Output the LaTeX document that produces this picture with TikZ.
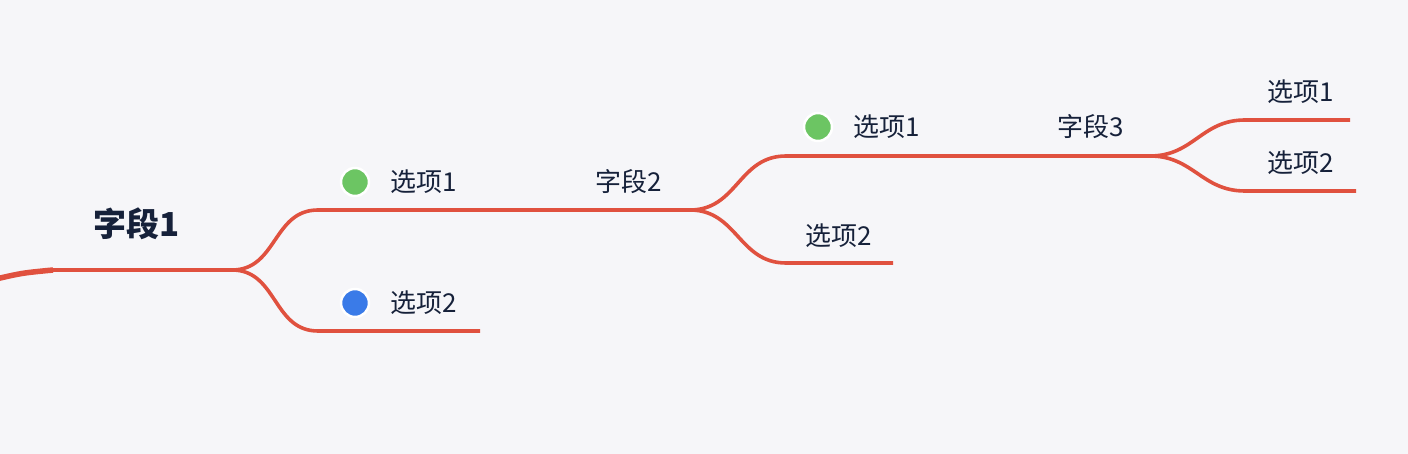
\documentclass[tikz,border=0pt]{standalone}
\usepackage{fontspec}
\setmainfont{Noto Sans CJK SC}
\usetikzlibrary{positioning}
\definecolor{bgcol}{HTML}{F6F6F9}
\definecolor{linered}{HTML}{E0513F}
\definecolor{inkcol}{HTML}{16213A}
\definecolor{dotgreen}{HTML}{6CC563}
\definecolor{dotblue}{HTML}{3A7BE8}

\begin{document}
\begin{tikzpicture}[x=1pt, y=-1pt,
  every node/.style={font=\fontsize{26}{30}\selectfont, text=inkcol, inner sep=0pt},
  branch/.style={draw=linered, line width=3.6pt},
  optlbl/.style={anchor=west},
  dot/.style={circle, minimum size=28pt, line width=2.5pt, draw=white}]
% canvas
\fill[bgcol] (0,0) rectangle (1408,454);
\useasboundingbox (0,0) rectangle (1408,454);
% root field
\node[font=\fontsize{33}{36}\selectfont\bfseries] (field1) at (137,224) {字段1};
\coordinate (rootin) at (-4,279);
\coordinate (root) at (53,270);
\coordinate (fork1) at (232,270);
\draw[draw=linered, line width=5.5pt] (rootin) .. controls (22,273) .. (root);
\draw[branch] (root) -- (fork1);
% first level
\coordinate (opt1a) at (318,210);
\coordinate (fork2) at (690,210);
\coordinate (opt2a) at (318,331);
\coordinate (opt2b) at (480,331);
\draw[branch] (fork1) to[out=0,in=180,looseness=1.1] (opt1a) -- (fork2);
\draw[branch] (fork1) to[out=0,in=180,looseness=1.1] (opt2a) -- (opt2b);
\node[dot, fill=dotgreen] (dot1) at (355,182) {};
\node[optlbl] (opt1) at (390,182) {选项1};
\node[optlbl] (field2) at (595,182) {字段2};
\node[dot, fill=dotblue] (dot2) at (355,303) {};
\node[optlbl] (opt2) at (390,303) {选项2};
% second level
\coordinate (opt21a) at (786,156);
\coordinate (fork3) at (1150,156);
\coordinate (opt22a) at (786,263);
\coordinate (opt22b) at (893,263);
\draw[branch] (fork2) to[out=0,in=180,looseness=1.1] (opt21a) -- (fork3);
\draw[branch] (fork2) to[out=0,in=180,looseness=1.1] (opt22a) -- (opt22b);
\node[dot, fill=dotgreen] (dot21) at (818,127) {};
\node[optlbl] (opt21) at (853,127) {选项1};
\node[optlbl] (field3) at (1057,127) {字段3};
\node[optlbl] (opt22) at (805,236) {选项2};
% third level
\coordinate (opt31a) at (1245,120);
\coordinate (opt31b) at (1350,120);
\coordinate (opt32a) at (1245,191);
\coordinate (opt32b) at (1356,191);
\draw[branch] (fork3) to[out=0,in=180,looseness=1.1] (opt31a) -- (opt31b);
\draw[branch] (fork3) to[out=0,in=180,looseness=1.1] (opt32a) -- (opt32b);
\node[optlbl] (opt31) at (1267,92) {选项1};
\node[optlbl] (opt32) at (1267,163) {选项2};
\end{tikzpicture}
\end{document}
